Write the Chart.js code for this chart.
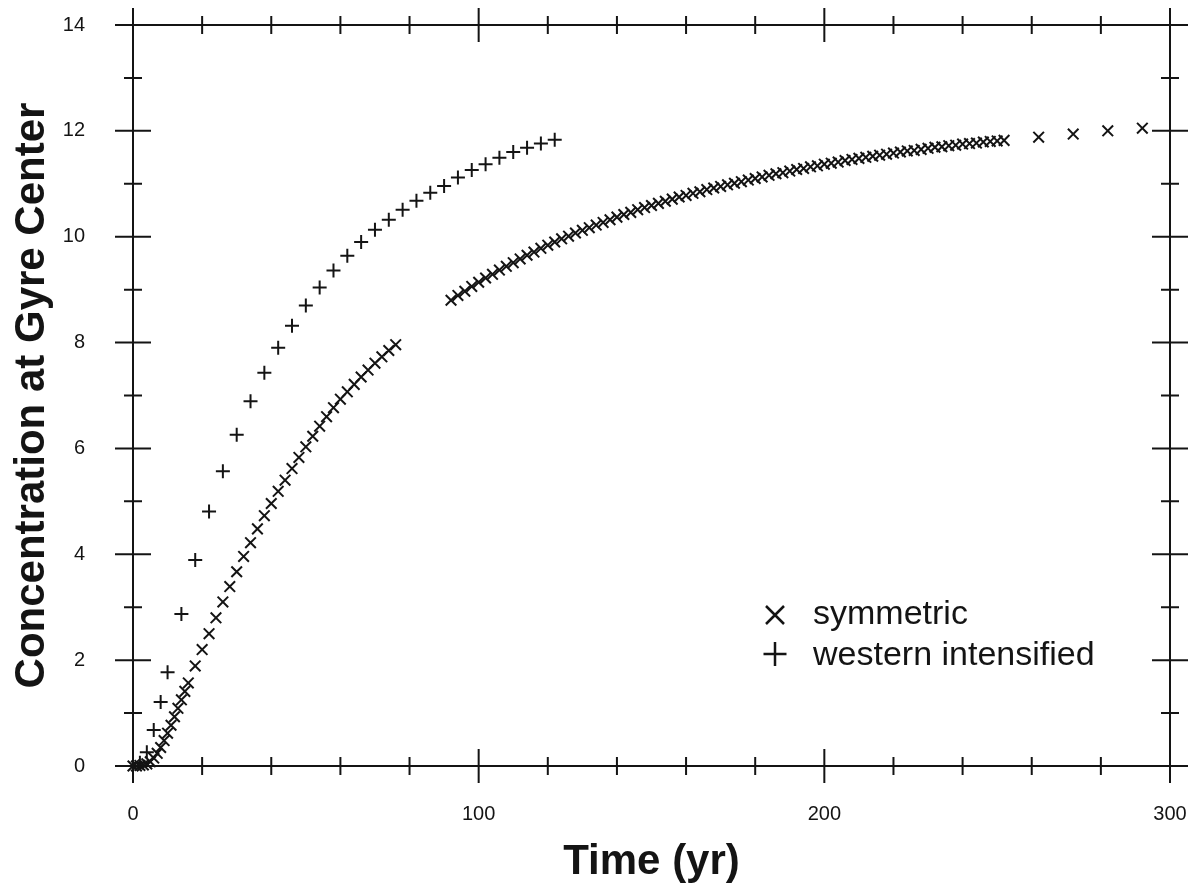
<!DOCTYPE html>
<html>
<head>
<meta charset="utf-8">
<title>Concentration at Gyre Center</title>
<script src="https://cdn.jsdelivr.net/npm/chart.js@4.4.0/dist/chart.umd.min.js"></script>
<style>
  html, body { margin: 0; padding: 0; background: #fff; }
  #wrap { width: 1200px; height: 888px; }
</style>
</head>
<body>
<div id="wrap"><canvas id="gyreChart" width="1200" height="888"></canvas></div>
<script>
// symmetric gyre, first run (yearly, then every 2 yr)
const symEarlyTime = [0,1,2,3,4,5,6,7,8,9,10,11,12,13,14,15,16,18,20,22,24,26,28,30,32,34,36,38,40,42,44,46,48,50,52,54,56,58,60,62,64,66,68,70,72,74,76];
const symEarlyConc = [0,0,0.01,0.02,0.04,0.08,0.15,0.24,0.35,0.48,0.62,0.77,0.93,1.09,1.25,1.41,1.57,1.89,2.20,2.50,2.80,3.10,3.39,3.67,3.96,4.22,4.48,4.73,4.96,5.19,5.40,5.62,5.83,6.03,6.23,6.42,6.60,6.77,6.93,7.07,7.21,7.35,7.48,7.61,7.73,7.85,7.96];

// symmetric gyre, continuation
const symLateTime = [92,94,96,98,100,102,104,106,108,110,112,114,116,118,120,122,124,126,128,130,132,134,136,138,140,142,144,146,148,150,152,154,156,158,160,162,164,166,168,170,172,174,176,178,180,182,184,186,188,190,192,194,196,198,200,202,204,206,208,210,212,214,216,218,220,222,224,226,228,230,232,234,236,238,240,242,244,246,248,250,252];
const symLateConc = [8.80,8.89,8.97,9.06,9.14,9.22,9.29,9.37,9.44,9.51,9.58,9.65,9.71,9.78,9.84,9.90,9.96,10.01,10.07,10.12,10.17,10.22,10.27,10.32,10.37,10.42,10.46,10.51,10.55,10.59,10.63,10.67,10.71,10.75,10.78,10.82,10.85,10.89,10.92,10.95,10.98,11.01,11.04,11.07,11.10,11.13,11.16,11.19,11.21,11.24,11.27,11.29,11.32,11.34,11.37,11.39,11.41,11.44,11.46,11.48,11.50,11.52,11.54,11.56,11.58,11.60,11.62,11.63,11.65,11.67,11.69,11.70,11.72,11.73,11.75,11.76,11.77,11.79,11.80,11.81,11.82];

// symmetric gyre, sparse tail
const symTailTime = [262,272,282,292];
const symTailConc = [11.88,11.94,12.00,12.05];

// western intensified gyre
const westTime = [0,2,4,6,8,10,14,18,22,26,30,34,38,42,46,50,54,58,62,66,70,74,78,82,86,90,94,98,102,106,110,114,118,122];
const westConc = [0,0.06,0.26,0.68,1.21,1.77,2.87,3.89,4.81,5.57,6.26,6.89,7.43,7.90,8.32,8.70,9.04,9.36,9.64,9.90,10.13,10.32,10.51,10.68,10.83,10.96,11.12,11.26,11.37,11.49,11.60,11.68,11.76,11.83];

// axis labels
const xTickLabels = [0,100,200,300];
const yTickLabels = [0,2,4,6,8,10,12,14];

const ink = '#141414';
const tickFont = { family: 'Liberation Sans, Arial, sans-serif', size: 20 };
const titleFont = { family: 'Liberation Sans, Arial, sans-serif', size: 42, weight: 'bold' };

function toPoints(xs, ys) {
  return xs.map((x, i) => ({ x: x, y: ys[i] }));
}

const symPoints = toPoints(symEarlyTime, symEarlyConc)
  .concat(toPoints(symLateTime, symLateConc))
  .concat(toPoints(symTailTime, symTailConc));
const westPoints = toPoints(westTime, westConc);

// box with ticks crossing every side
const frameTicks = {
  id: 'frameTicks',
  beforeDatasetsDraw(chart) {
    const { ctx, chartArea: a } = chart;
    const xs = chart.scales.x, ys = chart.scales.y;
    ctx.save();
    ctx.strokeStyle = ink;
    ctx.lineWidth = 2;
    ctx.lineCap = 'butt';
    ctx.beginPath();
    ctx.rect(a.left, a.top, a.right - a.left, a.bottom - a.top);
    ctx.stroke();
    ctx.beginPath();
    for (let v = 0; v <= 300; v += 20) {
      const px = xs.getPixelForValue(v);
      const len = v % 100 === 0 ? 17 : 9;
      ctx.moveTo(px, a.bottom - len); ctx.lineTo(px, a.bottom + len);
      ctx.moveTo(px, a.top - len); ctx.lineTo(px, a.top + len);
    }
    for (let v = 0; v <= 14; v += 1) {
      const py = ys.getPixelForValue(v);
      const len = v % 2 === 0 ? 18 : 9;
      ctx.moveTo(a.left - len, py); ctx.lineTo(a.left + len, py);
      ctx.moveTo(a.right - len, py); ctx.lineTo(a.right + len, py);
    }
    ctx.stroke();
    ctx.restore();
  }
};

// legend in the lower right of the plot
const legendBox = {
  id: 'legendBox',
  afterDraw(chart) {
    const { ctx, chartArea: a } = chart;
    const mx = a.left + 642, tx = a.left + 680;
    const y1 = a.top + 590, y2 = a.top + 629;
    ctx.save();
    ctx.strokeStyle = ink;
    ctx.lineWidth = 2.5;
    ctx.beginPath();
    ctx.moveTo(mx - 9, y1 - 9); ctx.lineTo(mx + 9, y1 + 9);
    ctx.moveTo(mx - 9, y1 + 9); ctx.lineTo(mx + 9, y1 - 9);
    ctx.moveTo(mx - 11.5, y2); ctx.lineTo(mx + 11.5, y2);
    ctx.moveTo(mx, y2 - 12); ctx.lineTo(mx, y2 + 12);
    ctx.stroke();
    ctx.fillStyle = ink;
    ctx.font = '34px "Liberation Sans", Arial, sans-serif';
    ctx.textBaseline = 'middle';
    ctx.fillText(chart.data.datasets[0].label, tx, y1);
    ctx.fillText(chart.data.datasets[1].label, tx, y2 + 2);
    ctx.restore();
  }
};

new Chart(document.getElementById('gyreChart'), {
  type: 'scatter',
  data: {
    datasets: [
      {
        label: 'symmetric',
        data: symPoints,
        pointStyle: 'crossRot',
        pointRadius: 7.5,
        borderColor: ink,
        borderWidth: 2,
        clip: false
      },
      {
        label: 'western intensified',
        data: westPoints,
        pointStyle: 'cross',
        pointRadius: 7,
        borderColor: ink,
        borderWidth: 2,
        clip: false
      }
    ]
  },
  options: {
    responsive: false,
    animation: false,
    events: [],
    layout: { autoPadding: false, padding: { top: 25, right: 30, left: 0, bottom: 0 } },
    plugins: {
      legend: { display: false },
      tooltip: { enabled: false }
    },
    scales: {
      x: {
        type: 'linear',
        min: 0,
        max: 300,
        afterBuildTicks: (s) => { s.ticks = xTickLabels.map(v => ({ value: v })); },
        afterFit: (s) => { s.height = 122; s.paddingLeft = 0; s.paddingRight = 0; },
        grid: { display: false },
        border: { display: false },
        ticks: { font: tickFont, color: ink, padding: 28, maxRotation: 0 },
        title: { display: true, text: 'Time (yr)', font: titleFont, color: ink, padding: { top: 0, bottom: 0 } }
      },
      y: {
        type: 'linear',
        min: 0,
        max: 14,
        afterBuildTicks: (s) => { s.ticks = yTickLabels.map(v => ({ value: v })); },
        afterFit: (s) => { s.width = 133; s.paddingTop = 0; s.paddingBottom = 0; },
        grid: { display: false },
        border: { display: false },
        ticks: { font: tickFont, color: ink, padding: 40 },
        title: { display: true, text: 'Concentration at Gyre Center', font: titleFont, color: ink, padding: { top: 7, bottom: 0 } }
      }
    }
  },
  plugins: [frameTicks, legendBox]
});
</script>
</body>
</html>
